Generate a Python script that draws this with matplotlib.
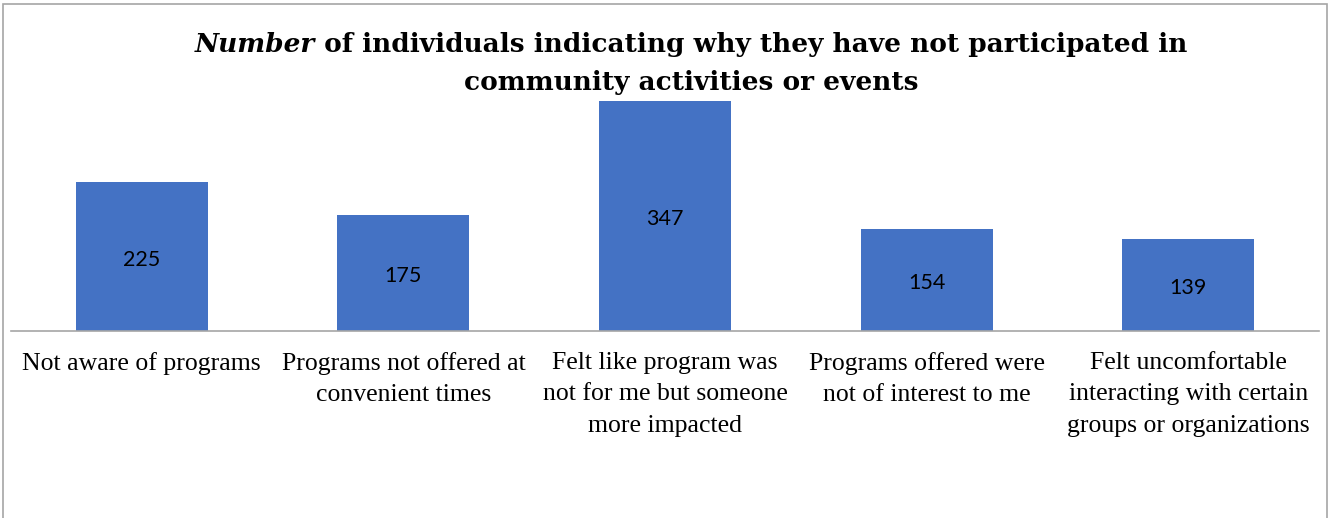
import matplotlib.pyplot as plt
from matplotlib.patches import Rectangle

categories = [
    "Not aware of programs",
    "Programs not offered at\nconvenient times",
    "Felt like program was\nnot for me but someone\nmore impacted",
    "Programs offered were\nnot of interest to me",
    "Felt uncomfortable\ninteracting with certain\ngroups or organizations",
]
counts = [225, 175, 347, 154, 139]

W, H = 1330, 518
fig = plt.figure(figsize=(W / 100, H / 100), dpi=100)

# chart border (bottom edge falls outside the image)
fig.patches.append(Rectangle((3 / W, -0.05), 1324 / W, 1.05 - 4 / H,
                             transform=fig.transFigure, fill=False,
                             edgecolor='#a6a6a6', linewidth=1.2))

ax = fig.add_axes([11 / W, 1 - 331 / H, 1308 / W, 230 / H])
x = range(len(counts))
bars = ax.bar(x, counts, width=0.505, color='#4472C4', clip_on=False)
ax.set_xlim(-0.5, len(counts) - 0.5)
ax.set_ylim(0, max(counts))

for b, v in zip(bars, counts):
    ax.annotate(str(v), (b.get_x() + b.get_width() / 2, v / 2), xytext=(0, -2.5),
                textcoords='offset points', ha='center', va='center',
                fontsize=15.5, family='Lato', color='black')

ax.set_xticks(list(x))
ax.set_xticklabels(categories, family='Liberation Serif', fontsize=18.5, linespacing=1.55)
ax.tick_params(axis='x', length=0, pad=15)
ax.set_yticks([])
for s in ['top', 'left', 'right']:
    ax.spines[s].set_visible(False)
ax.spines['bottom'].set_color('#a6a6a6')
ax.spines['bottom'].set_linewidth(1.2)

# title with italic first word
fig.canvas.draw()
r = fig.canvas.get_renderer()
cx = 691
tsize = 19
y1 = 1 - 52 / H
t1 = fig.text(0, y1, "Number", fontsize=tsize, weight='bold', style='italic',
              family='DejaVu Serif', va='baseline')
t2 = fig.text(0, y1, " of individuals indicating why they have not participated in",
              fontsize=tsize, weight='bold', family='DejaVu Serif', va='baseline')
w1 = t1.get_window_extent(r).width
w2 = t2.get_window_extent(r).width
x0 = cx - (w1 + w2) / 2
t1.set_x(x0 / W)
t2.set_x((x0 + w1) / W)
fig.text(cx / W, 1 - 90 / H, "community activities or events", fontsize=tsize, weight='bold',
         family='DejaVu Serif', ha='center', va='baseline')

fig.savefig('out.png', dpi=100)
